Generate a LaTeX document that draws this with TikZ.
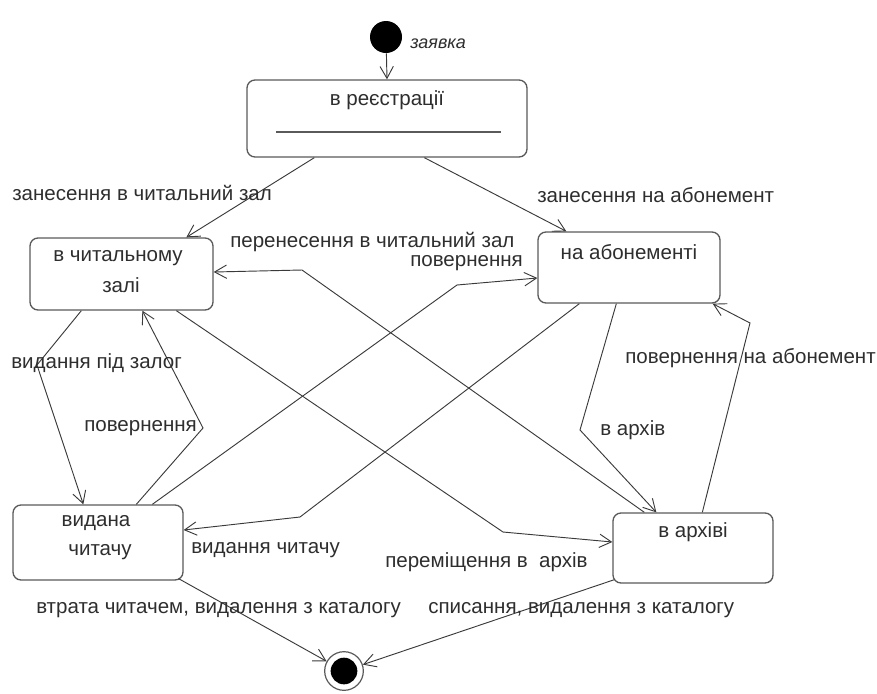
\documentclass[tikz,border=0pt]{standalone}
\usepackage{fontspec}
\setmainfont{Liberation Sans}
\usetikzlibrary{arrows.meta,calc}
\definecolor{txt}{HTML}{2E2E2E}
\definecolor{boxline}{HTML}{5A5A5A}
\definecolor{edge}{HTML}{3A3A3A}
\begin{document}
\begin{tikzpicture}[x=0.75pt,y=-0.75pt,
  every node/.style={font=\fontsize{15.4}{18}\selectfont, text=txt},
  state/.style={draw=boxline, line width=1pt, rounded corners=6pt, fill=white, inner sep=0pt},
  tr/.style={draw=edge, line width=0.7pt, -{Straight Barb[length=9pt,width=10pt]}},
  lbl/.style={inner sep=0pt, anchor=west},
]
\useasboundingbox (0,0) rectangle (877,693);

% initial and final pseudo-states
\node[circle, fill=black, minimum size=24pt, inner sep=0pt] (init) at (386,37) {};
\node[circle, draw=boxline, line width=0.9pt, fill=white, minimum size=29pt, inner sep=0pt] (final) at (344,671) {};
\node[circle, fill=black, minimum size=20pt, inner sep=0pt] (finalc) at (final) {};

% states
\node[state, minimum width=210pt, minimum height=57.75pt] (reg) at (387,118.5) {};
\node (regT) at (387,100) {в реєстрації};
\draw[boxline, line width=1.3pt] ($(reg.west)+(30,13.5)$) coordinate (regA) -- ($(reg.east)+(-27,13.5)$) coordinate (regB);

\node[state, minimum width=137.25pt, minimum height=54pt] (hall) at (121.5,274) {};
\node (hallT1) at (118,258) {в читальному};
\node (hallT2) at (121,285) {залі};

\node[state, minimum width=136.5pt, minimum height=53.25pt] (abon) at (629,267.5) {};
\node (abonT) at (629,252) {на абонементі};

\node[state, minimum width=127.5pt, minimum height=56.25pt] (issued) at (98,542.5) {};
\node (issuedT1) at (96,523) {видана};
\node (issuedT2) at (100,552) {читачу};

\node[state, minimum width=120pt, minimum height=52.5pt] (arch) at (693,548) {};
\node (archT) at (693,532) {в архіві};

% transitions
\draw[tr] (init) -- (reg.north);
\draw[tr] ($(reg.south west)+(68,0)$) -- ($(hall.north west)+(157,0)$);
\draw[tr] ($(reg.south west)+(178,0)$) -- ($(abon.north west)+(29,0)$);

\draw[tr] ($(arch.north west)+(32,0)$) -- (302,270) -- ($(hall.east)+(0,-2)$);
\draw[tr] ($(issued.north west)+(140,0)$) -- (457,285) -- ($(abon.west)+(0,10.5)$);
\draw[tr] ($(abon.south west)+(42,0)$) -- (300,517) -- ($(issued.east)+(0,-12.5)$);

\draw[tr] ($(hall.south west)+(52,0)$) -- (37,365) -- ($(issued.north west)+(71,0)$);
\draw[tr] ($(issued.north west)+(124,0)$) -- (203,428) -- ($(hall.south west)+(113,0)$);

\draw[tr] ($(abon.south west)+(79,0)$) -- (580,430) -- ($(arch.north west)+(44,0)$);
\draw[tr] ($(arch.north west)+(90,0)$) -- (750,323) -- ($(abon.south east)+(-8,0)$);

\draw[tr] ($(hall.south west)+(147,0)$) -- (503,532) -- ($(arch.west)+(0,-6)$);

\draw[tr] ($(issued.south east)+(-5,-2)$) -- (final);
\draw[tr] ($(arch.south west)+(2,-4)$) -- (final);

% transition labels
\node[lbl, font=\fontsize{13.5}{16}\selectfont\itshape] (lInit) at (410,44) {заявка};
\node[lbl] (l1) at (12,193) {занесення в читальний зал};
\node[lbl] (l2) at (537,195) {занесення на абонемент};
\node[lbl] (l3) at (230,242) {перенесення в читальний зал};
\node[lbl] (l4) at (410,263) {повернення};
\node[lbl] (l5) at (11,363) {видання під залог};
\node[lbl] (l6) at (84,428) {повернення};
\node[lbl] (l7) at (600,430) {в архів};
\node[lbl] (l8) at (625,358) {повернення на абонемент};
\node[lbl] (l9) at (191,550) {видання читачу};
\node[lbl] (l10) at (385,562) {переміщення в\ \ архів};
\node[lbl] (l11) at (36,610) {втрата читачем, видалення з каталогу};
\node[lbl] (l12) at (428,610) {списання, видалення з каталогу};
\end{tikzpicture}
\end{document}
